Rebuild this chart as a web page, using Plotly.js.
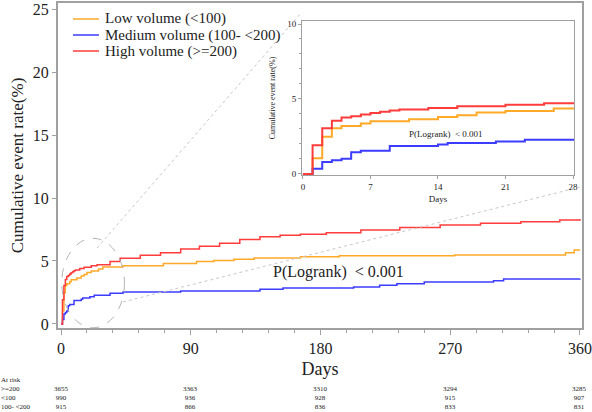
<!DOCTYPE html>
<html>
<head>
<meta charset="utf-8">
<script src="https://cdn.plot.ly/plotly-3.0.1.min.js"></script>
<style>html,body{margin:0;padding:0;background:#fff;}#chart{width:592px;height:412px;}</style>
</head>
<body>
<div id="chart"></div>
<script>
// ---- data ----
const seriesNames = ["Low volume (<100)", "Medium volume (100- <200)", "High volume (>=200)"];

const lowDays  = [0, 1, 2, 3, 4, 6, 7, 11, 14, 16, 18, 21, 26, 29, 43, 71, 94, 106, 120, 134, 166, 193, 273, 350, 356, 360];
const lowVals  = [0, 1.04, 2.48, 3.05, 3.19, 3.36, 3.52, 3.65, 3.80, 3.92, 4.09, 4.20, 4.36, 4.52, 4.63, 4.81, 4.95, 5.03, 5.13, 5.24, 5.34, 5.42, 5.48, 5.66, 5.87, 5.87];

const medDays  = [0, 1, 2, 3, 4, 5, 6, 9, 14, 15, 20, 23, 34, 43, 83, 138, 154, 203, 221, 233, 252, 300, 307, 360];
const medVals  = [0, 0.35, 0.80, 0.91, 1.02, 1.44, 1.55, 1.86, 1.97, 2.06, 2.17, 2.28, 2.43, 2.54, 2.62, 2.75, 2.86, 2.93, 3.08, 3.20, 3.33, 3.44, 3.56, 3.58];

const highDays = [0, 1, 2, 3, 4, 5, 6, 7, 8, 9, 10, 13, 16, 21, 25, 34, 41, 55, 69, 83, 96, 110, 124, 138, 152, 166, 184, 208, 235, 263, 291, 319, 346, 360];
const highVals = [0, 1.92, 3.05, 3.54, 3.76, 3.85, 3.96, 4.07, 4.14, 4.23, 4.29, 4.40, 4.51, 4.62, 4.71, 4.95, 5.21, 5.45, 5.66, 5.95, 6.17, 6.40, 6.70, 6.92, 7.04, 7.13, 7.25, 7.45, 7.66, 7.85, 8.00, 8.12, 8.25, 8.33];

const colors = ["#FFA928", "#3C3CFF", "#FF3C3C"];

const atRiskDays   = [0, 90, 180, 270, 360];
const atRiskTitle  = "At risk";
const atRiskLabels = [">=200", "<100", "100- <200"];
const riskHigh = [3655, 3363, 3310, 3294, 3285];
const riskLow  = [990, 936, 928, 915, 907];
const riskMed  = [915, 866, 836, 833, 831];

const mainTicks  = [0, 90, 180, 270, 360];
const insetTicks = [0, 7, 14, 21, 28];
const pText = "P(Logrank)  < 0.001";

// ---- helpers ----
const esc = s => String(s).replace(/&/g, "&amp;").replace(/</g, "&lt;").replace(/>/g, "&gt;");
const serif = "Liberation Serif, Times New Roman, serif";
const ink = "#222";

// ---- traces ----
const sets = [[lowDays, lowVals], [medDays, medVals], [highDays, highVals]];
const traces = [];
sets.forEach((s, i) => {
  traces.push({x: s[0], y: s[1], type: "scatter", mode: "lines", name: seriesNames[i], showlegend: false,
    line: {shape: "hv", color: colors[i], width: 1.5}, xaxis: "x", yaxis: "y", hoverinfo: "skip"});
});
sets.forEach((s, i) => {
  traces.push({x: s[0], y: s[1], type: "scatter", mode: "lines", name: seriesNames[i], showlegend: false,
    line: {shape: "hv", color: colors[i], width: 2}, xaxis: "x2", yaxis: "y2", hoverinfo: "skip"});
});

// ---- annotations ----
const ann = [];
ann.push({xref: "x", yref: "y", x: 192.8, y: 4.13, text: pText, showarrow: false,
  font: {family: serif, size: 16, color: ink}});
ann.push({xref: "x2", yref: "y2", x: 14.8, y: 2.67, text: pText, showarrow: false,
  font: {family: serif, size: 9, color: ink}});

// at-risk table: one multi-line block per column
const riskFont = {family: serif, size: 7, color: ink};
ann.push({xref: "paper", yref: "paper", x: -0.1107, y: -0.1446, xanchor: "left", yanchor: "top", align: "left",
  text: [atRiskTitle].concat(atRiskLabels).map(esc).join("<br>"), showarrow: false, font: riskFont, borderpad: 0});
const riskRows = [riskHigh, riskLow, riskMed];
atRiskDays.forEach((d, c) => {
  ann.push({xref: "x", yref: "paper", x: d, y: -0.1726, xanchor: "center", yanchor: "top", align: "center",
    text: riskRows.map(r => r[c]).join("<br>"), showarrow: false, font: riskFont, borderpad: 0});
});

// legend drawn in the top-left corner
const legY = [0.9508, 0.9015, 0.8523];
const shapes = [];
seriesNames.forEach((n, i) => {
  shapes.push({type: "line", xref: "paper", yref: "paper", x0: 0.0286, x1: 0.0782, y0: legY[i], y1: legY[i],
    line: {color: colors[i], width: 1.5}});
  ann.push({xref: "paper", yref: "paper", x: 0.0878, y: legY[i], xanchor: "left", yanchor: "middle",
    text: esc(n), showarrow: false, font: {family: serif, size: 15, color: ink}, borderpad: 0});
});

// ---- zoom guides ----
shapes.push(
  {type: "circle", xref: "x", yref: "y", x0: 0.5, x1: 44, y0: -0.3, y1: 6.8,
   line: {color: "#b4b4b4", width: 1, dash: "dash"}},
  {type: "line", xref: "x", yref: "y", x0: 25, y0: 6.03, x1: 165.8, y1: 24.6,
   line: {color: "#c8c8c8", width: 1, dash: "dot"}},
  {type: "line", xref: "x", yref: "y", x0: 43, y0: 1.75, x1: 361, y1: 10.9,
   line: {color: "#c8c8c8", width: 1, dash: "dot"}}
);

const axisLine = "#a0a0a0";
const layout = {
  width: 592, height: 412,
  margin: {l: 58, r: 10, t: 3, b: 84},
  paper_bgcolor: "#fff", plot_bgcolor: "#fff",
  font: {family: serif, color: ink},
  showlegend: false,
  xaxis: {domain: [0, 1], range: [-2.1, 361.4], tickvals: mainTicks, ticks: "outside", ticklen: 5,
    tickcolor: axisLine, minor: {dtick: 18, tick0: 0, ticks: "outside", ticklen: 3, tickcolor: axisLine},
    showline: true, linecolor: axisLine, linewidth: 2, mirror: true, showgrid: false, zeroline: false,
    tickfont: {family: serif, size: 16, color: ink},
    title: {text: "Days", font: {family: serif, size: 18, color: ink}, standoff: 6}},
  yaxis: {domain: [0, 1], range: [-0.32, 25.48], tickvals: [0, 5, 10, 15, 20, 25], ticks: "outside", ticklen: 4,
    tickcolor: axisLine, showline: true, linecolor: axisLine, linewidth: 2, mirror: true,
    showgrid: false, zeroline: false, tickfont: {family: serif, size: 16, color: ink},
    title: {text: "Cumulative event rate(%)", font: {family: serif, size: 17, color: ink}, standoff: 5}},
  xaxis2: {domain: [0.4656, 0.9847], anchor: "y2", range: [-0.1, 28.1], tickvals: insetTicks,
    ticks: "outside", ticklen: 3, tickcolor: axisLine, showline: true, linecolor: axisLine, linewidth: 1,
    mirror: true, showgrid: false, zeroline: false, tickfont: {family: serif, size: 9, color: ink},
    title: {text: "Days", font: {family: serif, size: 9, color: ink}, standoff: 4}},
  yaxis2: {domain: [0.4708, 0.9446], anchor: "x2", range: [-0.07, 10.2], tickvals: [0, 5, 10],
    ticks: "outside", ticklen: 3, tickcolor: axisLine, minor: {dtick: 1, ticks: "outside", ticklen: 2, tickcolor: axisLine},
    showline: true, linecolor: axisLine, linewidth: 1, mirror: true, showgrid: false, zeroline: false,
    tickfont: {family: serif, size: 9, color: ink},
    title: {text: "Cumulative event rate(%)", font: {family: serif, size: 8, color: ink}, standoff: 10}},
  annotations: ann,
  shapes: shapes
};

Plotly.newPlot("chart", traces, layout, {displayModeBar: false, staticPlot: true});
</script>
</body>
</html>
